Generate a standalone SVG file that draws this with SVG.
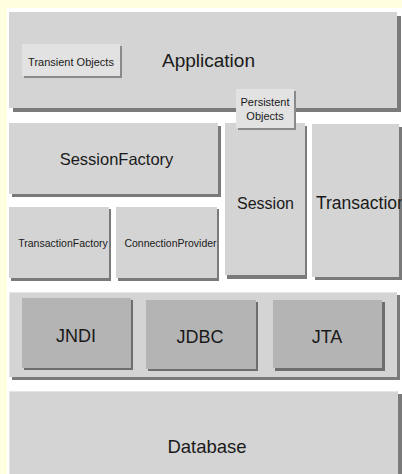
<svg xmlns="http://www.w3.org/2000/svg" width="402" height="474" viewBox="0 0 402 474">
  <style>
    .box { fill: #d4d4d4; }
    .shadow { fill: #7a7a7a; }
    .inner { fill: #b4b4b4; }
    .inshadow { fill: #6e6e6e; }
    .tag { fill: #e2e2e2; }
    .tagshadow { fill: #8a8a8a; }
    .hl { fill: none; stroke: #e6e6e6; stroke-width: 1; }
    text { font-family: "Liberation Sans", Arial, sans-serif; fill: #1a1a1a; text-anchor: middle; }
    .big { font-size: 17px; }
    .small { font-size: 10.5px; }
  </style>

  <!-- page background with pale border strip -->
  <rect x="0" y="0" width="402" height="474" fill="#ffffe0"/>
  <rect x="7" y="8" width="395" height="466" fill="#ffffff"/>

  <g id="application">
    <rect class="shadow" x="13" y="16" width="388" height="96"/>
    <rect class="box" x="9" y="12" width="388" height="96"/>
    <text x="208.5" y="67" style="font-size:19px">Application</text>
  </g>

  <g id="transient-objects">
    <rect class="tagshadow" x="24" y="46" width="98" height="32"/>
    <rect class="tag" x="22" y="44" width="98" height="32"/>
    <text class="small" x="71" y="66" style="font-size:11px">Transient Objects</text>
  </g>

  <g id="session-factory">
    <rect class="shadow" x="12" y="126" width="209" height="71"/>
    <rect class="box" x="9" y="123" width="209" height="71"/>
    <text class="big" x="116.5" y="165" style="font-size:16.5px">SessionFactory</text>
  </g>

  <g id="transaction-factory">
    <rect class="shadow" x="11" y="209" width="100" height="72"/>
    <rect class="box" x="9" y="207" width="100" height="71"/>
    <text class="small" x="63" y="247">TransactionFactory</text>
  </g>

  <g id="connection-provider">
    <rect class="shadow" x="118" y="209" width="101" height="72"/>
    <rect class="box" x="116" y="207" width="101" height="71"/>
    <text class="small" x="170.5" y="247">ConnectionProvider</text>
  </g>

  <g id="session">
    <rect class="shadow" x="227" y="126" width="80" height="153"/>
    <rect class="box" x="225" y="123" width="80" height="152"/>
    <text class="big" x="265.5" y="209" style="font-size:16px">Session</text>
  </g>

  <g id="transaction">
    <rect class="shadow" x="315" y="127" width="88" height="153"/>
    <rect class="box" x="312" y="124" width="87" height="153"/>
    <text class="big" x="316" y="209" style="text-anchor:start;font-size:17.5px">Transaction</text>
  </g>

  <g id="persistent-objects">
    <rect class="tagshadow" x="238" y="91" width="58" height="39"/>
    <rect class="tag" x="236" y="89" width="58" height="39"/>
    <text class="small" x="265" y="106" style="font-size:11px">Persistent</text>
    <text class="small" x="265" y="120" style="font-size:11px">Objects</text>
  </g>

  <g id="services">
    <rect class="shadow" x="12" y="295" width="388" height="85"/>
    <rect class="box" x="9" y="292" width="388" height="85"/>
    <path class="hl" d="M9.5 376 V292.5 H396"/>
  </g>

  <g id="jndi">
    <rect class="inshadow" x="24" y="300" width="109" height="70"/>
    <rect class="inner" x="22" y="298" width="109" height="70"/>
    <text class="big" x="76" y="342" style="font-size:18px">JNDI</text>
  </g>

  <g id="jdbc">
    <rect class="inshadow" x="148" y="302" width="110" height="69"/>
    <rect class="inner" x="146" y="300" width="110" height="69"/>
    <text class="big" x="200" y="343" style="font-size:18px">JDBC</text>
  </g>

  <g id="jta">
    <rect class="inshadow" x="275" y="302" width="110" height="69"/>
    <rect class="inner" x="273" y="300" width="109" height="68"/>
    <text class="big" x="327" y="343" style="font-size:18px">JTA</text>
  </g>

  <g id="database">
    <rect class="shadow" x="12" y="394" width="391" height="84"/>
    <rect class="box" x="9" y="391" width="389" height="84"/>
    <path class="hl" d="M9.5 474 V391.5 H397"/>
    <text class="big" x="207" y="453" style="font-size:18.5px">Database</text>
  </g>
</svg>
